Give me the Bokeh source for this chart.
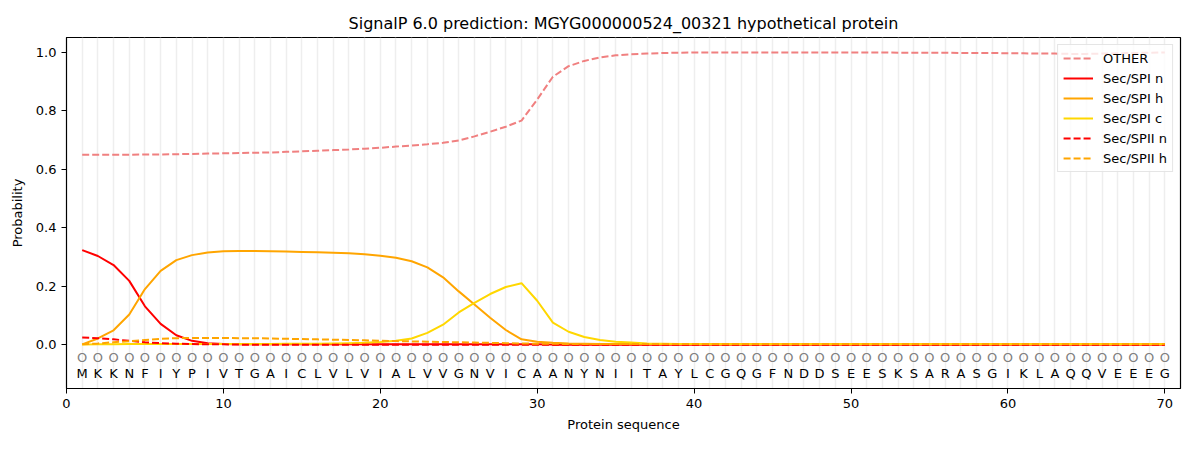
from bokeh.plotting import figure
from bokeh.models import FixedTicker, Range1d, Legend, LegendItem, CustomJSTickFormatter
from bokeh.core.properties import value
from bokeh.embed import file_html
from bokeh.resources import INLINE

positions = list(range(1, 71))
sequence = list("MKKNFIYPIVTGAICLVLVIALVVGNVICAANYNIITAYLCGQGFNDDSEESKSARASGIKLAQQVEEEG")
pred_labels = ["O"] * 70

other = [0.649, 0.649, 0.649, 0.649, 0.650, 0.650, 0.651, 0.652, 0.653, 0.654,
         0.655, 0.656, 0.657, 0.659, 0.661, 0.663, 0.665, 0.667, 0.670, 0.673,
         0.677, 0.681, 0.685, 0.690, 0.698, 0.712, 0.728, 0.745, 0.766, 0.838,
         0.916, 0.952, 0.970, 0.982, 0.989, 0.993, 0.995, 0.997, 0.998, 0.999,
         0.999, 0.999, 0.999, 0.999, 0.999, 0.999, 0.999, 0.999, 0.999, 0.999,
         0.999, 0.999, 0.998, 0.998, 0.998, 0.998, 0.997, 0.997, 0.997, 0.996,
         0.996, 0.995, 0.995, 0.994, 0.994, 0.995, 0.996, 0.997, 0.998, 0.999]

sp1_n = [0.323, 0.303, 0.272, 0.218, 0.131, 0.071, 0.032, 0.013, 0.005, 0.002,
         0.001, 0.001, 0.001, 0.001, 0.001, 0.001, 0.001, 0.001, 0.001, 0.001,
         0.001, 0.001, 0.001, 0.001, 0.001, 0.001, 0.001, 0.001, 0.001, 0.001,
         0.0, 0.0, 0.0, 0.0, 0.0, 0.0, 0.0, 0.0, 0.0, 0.0,
         0.0, 0.0, 0.0, 0.0, 0.0, 0.0, 0.0, 0.0, 0.0, 0.0,
         0.0, 0.0, 0.0, 0.0, 0.0, 0.0, 0.0, 0.0, 0.0, 0.0,
         0.0, 0.0, 0.0, 0.0, 0.0, 0.0, 0.0, 0.0, 0.0, 0.0]

sp1_h = [0.001, 0.021, 0.049, 0.103, 0.190, 0.252, 0.289, 0.306, 0.315, 0.319,
         0.320, 0.320, 0.319, 0.318, 0.317, 0.316, 0.314, 0.312, 0.309, 0.304,
         0.297, 0.285, 0.264, 0.230, 0.182, 0.137, 0.092, 0.050, 0.018, 0.010,
         0.006, 0.004, 0.003, 0.002, 0.002, 0.002, 0.002, 0.002, 0.002, 0.002,
         0.002, 0.002, 0.002, 0.002, 0.002, 0.002, 0.002, 0.002, 0.002, 0.002,
         0.002, 0.002, 0.002, 0.002, 0.002, 0.002, 0.002, 0.002, 0.002, 0.002,
         0.002, 0.002, 0.002, 0.002, 0.002, 0.002, 0.002, 0.002, 0.002, 0.002]

sp1_c = [0.000, 0.001, 0.001, 0.002, 0.002, 0.002, 0.002, 0.002, 0.002, 0.002,
         0.002, 0.002, 0.002, 0.003, 0.003, 0.003, 0.004, 0.005, 0.006, 0.009,
         0.013, 0.021, 0.040, 0.068, 0.110, 0.143, 0.173, 0.197, 0.210, 0.150,
         0.075, 0.044, 0.026, 0.016, 0.010, 0.007, 0.004, 0.003, 0.002, 0.002,
         0.001, 0.001, 0.001, 0.001, 0.001, 0.001, 0.001, 0.001, 0.001, 0.001,
         0.001, 0.001, 0.001, 0.001, 0.001, 0.001, 0.001, 0.001, 0.001, 0.001,
         0.001, 0.001, 0.001, 0.001, 0.001, 0.001, 0.001, 0.001, 0.001, 0.001]

sp2_n = [0.024, 0.022, 0.018, 0.013, 0.008, 0.005, 0.003, 0.002, 0.001, 0.001,
         0.0, 0.0, 0.0, 0.0, 0.0, 0.0, 0.0, 0.0, 0.0, 0.0,
         0.0, 0.0, 0.0, 0.0, 0.0, 0.0, 0.0, 0.0, 0.0, 0.0,
         0.0, 0.0, 0.0, 0.0, 0.0, 0.0, 0.0, 0.0, 0.0, 0.0,
         0.0, 0.0, 0.0, 0.0, 0.0, 0.0, 0.0, 0.0, 0.0, 0.0,
         0.0, 0.0, 0.0, 0.0, 0.0, 0.0, 0.0, 0.0, 0.0, 0.0,
         0.0, 0.0, 0.0, 0.0, 0.0, 0.0, 0.0, 0.0, 0.0, 0.0]

sp2_h = [0.001, 0.004, 0.008, 0.012, 0.016, 0.020, 0.022, 0.023, 0.023, 0.023,
         0.022, 0.022, 0.021, 0.020, 0.019, 0.018, 0.017, 0.016, 0.015, 0.013,
         0.012, 0.011, 0.010, 0.009, 0.008, 0.007, 0.006, 0.005, 0.004, 0.003,
         0.003, 0.002, 0.002, 0.002, 0.002, 0.002, 0.002, 0.002, 0.002, 0.002,
         0.002, 0.002, 0.002, 0.002, 0.002, 0.002, 0.002, 0.002, 0.002, 0.002,
         0.002, 0.002, 0.002, 0.002, 0.002, 0.002, 0.002, 0.002, 0.002, 0.002,
         0.002, 0.002, 0.002, 0.002, 0.002, 0.002, 0.002, 0.002, 0.002, 0.002]

x_ticks = [0, 10, 20, 30, 40, 50, 60, 70]
y_ticks = [0.0, 0.2, 0.4, 0.6, 0.8, 1.0]
title_text = "SignalP 6.0 prediction: MGYG000000524_00321 hypothetical protein"
FONT = "DejaVu Sans"

p = figure(width=1184, height=434, output_backend="svg", toolbar_location=None,
           x_range=Range1d(0, 71), y_range=Range1d(-0.15, 1.05),
           min_border_left=66, min_border_right=4, min_border_top=37, min_border_bottom=46)
p.title.text = title_text
p.title.align = "center"
p.title.text_font = FONT
p.title.text_font_size = "16px"
p.title.text_font_style = "normal"
p.title.text_color = "black"
p.title.offset = 0

p.outline_line_color = "black"
p.outline_line_width = 1.2
p.background_fill_color = "white"
p.border_fill_color = "white"

p.ygrid.visible = False
p.xgrid.ticker = FixedTicker(ticks=positions)
p.xgrid.grid_line_color = "#eeeeee"
p.xgrid.grid_line_width = 1.5

for ax in (p.xaxis, p.yaxis):
    ax.axis_line_color = "black"
    ax.major_tick_line_color = "black"
    ax.major_tick_out = 5
    ax.major_tick_in = 0
    ax.minor_tick_line_color = None
    ax.major_label_text_font = FONT
    ax.major_label_text_font_size = "13px"
    ax.major_label_text_color = "black"
    ax.axis_label_text_font = FONT
    ax.axis_label_text_font_size = "13px"
    ax.axis_label_text_font_style = "normal"
    ax.axis_label_text_color = "black"

p.xaxis.ticker = FixedTicker(ticks=x_ticks)
p.yaxis.ticker = FixedTicker(ticks=y_ticks)
p.yaxis.formatter = CustomJSTickFormatter(code="return tick.toFixed(1);")
p.xaxis.axis_label = "Protein sequence"
p.yaxis.axis_label = "Probability"
p.xaxis.axis_label_standoff = 6
p.yaxis.axis_label_standoff = 8

series = [
    ("OTHER", other, "#f08080", "7 3"),
    ("Sec/SPI n", sp1_n, "red", "solid"),
    ("Sec/SPI h", sp1_h, "orange", "solid"),
    ("Sec/SPI c", sp1_c, "gold", "solid"),
    ("Sec/SPII n", sp2_n, "red", "7 3"),
    ("Sec/SPII h", sp2_h, "orange", "7 3"),
]
items = []
for name, vals, col, dash in series:
    r = p.line(positions, vals, line_color=col, line_width=2, line_dash=dash)
    items.append(LegendItem(label=name, renderers=[r]))

p.text(x=positions, y=[-0.045] * 70, text=pred_labels, text_font=value(FONT),
       text_font_size="13px", text_color="gray", text_align="center", text_baseline="middle")
p.text(x=positions, y=[-0.1] * 70, text=sequence, text_font=value(FONT),
       text_font_size="13px", text_color="black", text_align="center", text_baseline="middle")

legend = Legend(items=items, location="top_right")
legend.margin = 7
legend.padding = 5
legend.spacing = 4
legend.label_height = 16
legend.glyph_height = 16
legend.glyph_width = 30
legend.label_standoff = 10
legend.label_text_font = FONT
legend.label_text_font_size = "13px"
legend.label_text_color = "black"
legend.border_line_color = "#cccccc"
legend.border_line_width = 1
legend.background_fill_color = "white"
legend.background_fill_alpha = 0.8
p.add_layout(legend)

open("out.html", "w").write(file_html(p, INLINE))
